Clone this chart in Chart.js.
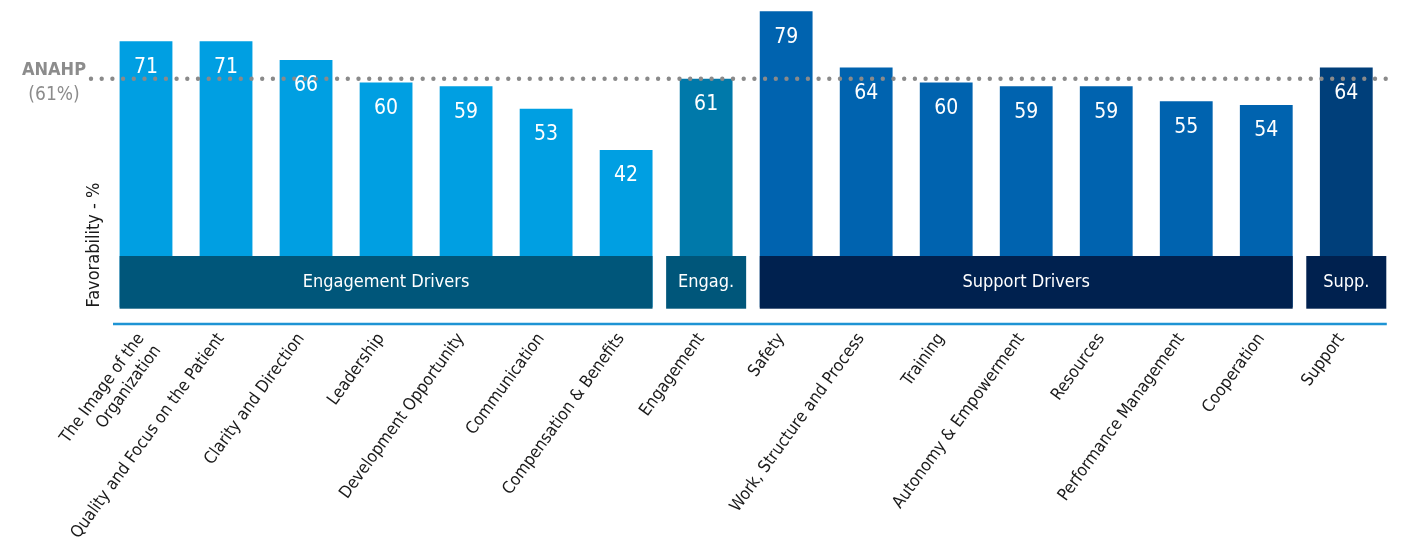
<!DOCTYPE html>
<html>
<head>
<meta charset="utf-8">
<title>Favorability by driver</title>
<script src="https://cdn.jsdelivr.net/npm/chart.js@4.4.1/dist/chart.umd.min.js"></script>
<style>
  html, body { margin: 0; padding: 0; background: #fff; }
  #wrap { width: 1401px; height: 544px; position: relative; }
</style>
</head>
<body>
<div id="wrap"><canvas id="favChart"></canvas></div>
<script>
const FONT = "'Liberation Sans Narrow', 'DejaVu Sans Condensed', 'Liberation Sans', sans-serif";

const categories = [
  ['The Image of the', 'Organization'],
  'Quality and Focus on the Patient',
  'Clarity and Direction',
  'Leadership',
  'Development Opportunity',
  'Communication',
  'Compensation & Benefits',
  'Engagement',
  'Safety',
  'Work, Structure and Process',
  'Training',
  'Autonomy & Empowerment',
  'Resources',
  'Performance Management',
  'Cooperation',
  'Support'
];
const favorability = [71, 71, 66, 60, 59, 53, 42, 61, 79, 64, 60, 59, 59, 55, 54, 64];
const barColors = [
  '#009fe2', '#009fe2', '#009fe2', '#009fe2', '#009fe2', '#009fe2', '#009fe2',
  '#0079aa',
  '#0063af', '#0063af', '#0063af', '#0063af', '#0063af', '#0063af', '#0063af',
  '#003f7a'
];
// group bands: label, first and last bar index, fill
const groupNames = ['Engagement Drivers', 'Engag.', 'Support Drivers', 'Supp.'];
const groupStart = [0, 7, 8, 15];
const groupEnd = [6, 7, 14, 15];
const groupColors = ['#00567a', '#00567a', '#00214f', '#00214f'];
const benchmark = 61;
const benchmarkLabel = ['ANAHP', '(61%)'];

const overlay = {
  id: 'overlay',
  afterDatasetsDraw(chart) {
    const { ctx, chartArea, scales: { x, y } } = chart;
    const bars = chart.getDatasetMeta(0).data;

    // ANAHP reference line, dotted
    const yb = y.getPixelForValue(benchmark);
    ctx.save();
    ctx.strokeStyle = '#8a8a8a';
    ctx.lineWidth = 4.4;
    ctx.lineCap = 'round';
    ctx.setLineDash([0, 10.7]);
    ctx.beginPath();
    ctx.moveTo(91, yb);
    ctx.lineTo(chartArea.right, yb);
    ctx.stroke();
    ctx.restore();

    ctx.save();
    ctx.fillStyle = '#8c8c8c';
    ctx.textAlign = 'center';
    ctx.textBaseline = 'middle';
    ctx.font = 'bold 18px ' + FONT;
    ctx.fillText(benchmarkLabel[0], 54, yb - 8);
    ctx.font = '19px ' + FONT;
    ctx.fillText(benchmarkLabel[1], 54, yb + 16);
    ctx.restore();

    // values inside the bars
    ctx.save();
    ctx.fillStyle = '#ffffff';
    ctx.textAlign = 'center';
    ctx.textBaseline = 'middle';
    ctx.font = '21px ' + FONT;
    bars.forEach((bar, i) => {
      ctx.fillText(String(favorability[i]), bar.x, bar.y + 26);
    });
    ctx.restore();

    // group bands across the bar feet
    const bandBottom = chartArea.bottom + 1.2;
    const bandTop = bandBottom - 52.7;
    const step = x.getPixelForValue(1) - x.getPixelForValue(0);
    ctx.save();
    groupNames.forEach((name, g) => {
      const a = bars[groupStart[g]], b = bars[groupEnd[g]];
      let left, right;
      if (groupStart[g] === groupEnd[g]) {
        left = a.x - step / 2;
        right = a.x + step / 2;
      } else {
        left = a.x - a.width / 2;
        right = b.x + b.width / 2;
      }
      ctx.fillStyle = groupColors[g];
      ctx.fillRect(left, bandTop, right - left, bandBottom - bandTop);
      ctx.fillStyle = '#ffffff';
      ctx.font = '18px ' + FONT;
      ctx.textAlign = 'center';
      ctx.textBaseline = 'middle';
      ctx.fillText(name, (left + right) / 2, (bandTop + bandBottom) / 2);
    });
    ctx.restore();

    // blue rule under the bands
    ctx.save();
    ctx.strokeStyle = '#1e94d4';
    ctx.lineWidth = 2.5;
    ctx.beginPath();
    ctx.moveTo(113, 324);
    ctx.lineTo(chartArea.right + 0.5, 324);
    ctx.stroke();
    ctx.restore();
  }
};

new Chart(document.getElementById('favChart'), {
  type: 'bar',
  data: {
    labels: categories,
    datasets: [{
      data: favorability,
      backgroundColor: barColors,
      borderWidth: 0,
      barPercentage: 0.66,
      categoryPercentage: 1
    }]
  },
  options: {
    responsive: true,
    maintainAspectRatio: false,
    animation: false,
    layout: { padding: { top: 7.5, right: 14.7, bottom: 0, left: 0 } },
    plugins: { legend: { display: false }, tooltip: { enabled: false } },
    scales: {
      x: {
        grid: { display: false },
        border: { display: false },
        ticks: {
          autoSkip: false,
          minRotation: 54,
          maxRotation: 54,
          padding: 14,
          labelOffset: -5,
          color: '#1a1a1a',
          font: { family: FONT, size: 17, lineHeight: 1.2 }
        },
        afterFit(scale) { scale.height = 236.5; }
      },
      y: {
        min: 0,
        max: 80,
        grid: { display: false },
        border: { display: false },
        ticks: { display: false },
        title: {
          display: true,
          text: 'Favorability - %',
          align: 'start',
          color: '#1a1a1a',
          font: { family: FONT, size: 18 },
          padding: { top: 84, bottom: 0 }
        },
        afterFit(scale) { scale.width = 106; }
      }
    }
  },
  plugins: [overlay]
});
</script>
</body>
</html>
